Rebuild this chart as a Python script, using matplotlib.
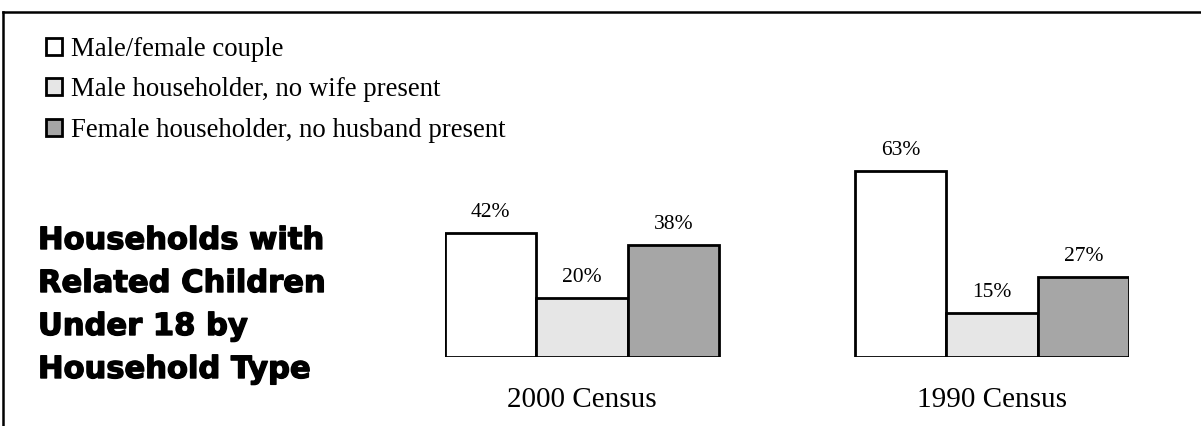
import matplotlib.pyplot as plt
import matplotlib.patheffects as pe
from matplotlib.lines import Line2D

# data
groups = ['2000 Census', '1990 Census']
series = ['Male/female couple', 'Male householder, no wife present',
          'Female householder, no husband present']
values = {
    'Male/female couple': [42, 63],
    'Male householder, no wife present': [20, 15],
    'Female householder, no husband present': [38, 27],
}
colors = ['#ffffff', '#e6e6e6', '#a6a6a6']
title_lines = ['Households with', 'Related Children', 'Under 18 by', 'Household Type']

W, H = 1201, 426
fig = plt.figure(figsize=(W / 100, H / 100), dpi=100)

# axes spans the bars: left 445px, right 1129px, baseline 357px, 70% -> ~206px
ax = fig.add_axes([445 / W, (H - 357) / H, (1129 - 445) / W, 206.5 / H])
group_gap = 4.49
bars = []
for i, name in enumerate(series):
    xs = [g * group_gap + i for g in range(len(groups))]
    b = ax.bar(xs, values[name], width=1.0, align='edge', color=colors[i],
               edgecolor='black', linewidth=2.0, label=name)
    bars.append(b)
    for x, v in zip(xs, values[name]):
        ax.text(x + 0.5, v + 5.4, f'{v}%', ha='center', va='baseline',
                fontsize=15.5, family='Liberation Serif')

ax.set_xlim(0, group_gap + 3)
ax.set_ylim(0, 70)
ax.axis('off')

for g, gname in enumerate(groups):
    ax.text(g * group_gap + 1.5, -17, gname, ha='center', va='baseline',
            fontsize=21, family='Liberation Serif', clip_on=False)

# legend
fig.legend(handles=bars, labels=series, loc='upper left',
           bbox_to_anchor=(46 / W, 1 - 37 / H), frameon=False,
           prop={'family': 'Liberation Serif', 'size': 19.3},
           handlelength=0.6, handleheight=0.6, handletextpad=0.33,
           labelspacing=0.57, borderaxespad=0, borderpad=0)

# title block (bold sans, lightly stroked to look heavier)
for k, line in enumerate(title_lines):
    fig.text(38 / W, 1 - (249 + k * 43) / H, line, ha='left', va='baseline',
             fontsize=22, fontweight='bold', family='DejaVu Sans',
             path_effects=[pe.withStroke(linewidth=1.0, foreground='black')])

# frame lines (top and left only)
fig.add_artist(Line2D([3 / W, 1], [1 - 11.5 / H] * 2, color='black', lw=1.8,
                      transform=fig.transFigure))
fig.add_artist(Line2D([3 / W] * 2, [0, 1 - 11.5 / H], color='black', lw=1.8,
                      transform=fig.transFigure))

fig.savefig('out.png', dpi=100, facecolor='white')
